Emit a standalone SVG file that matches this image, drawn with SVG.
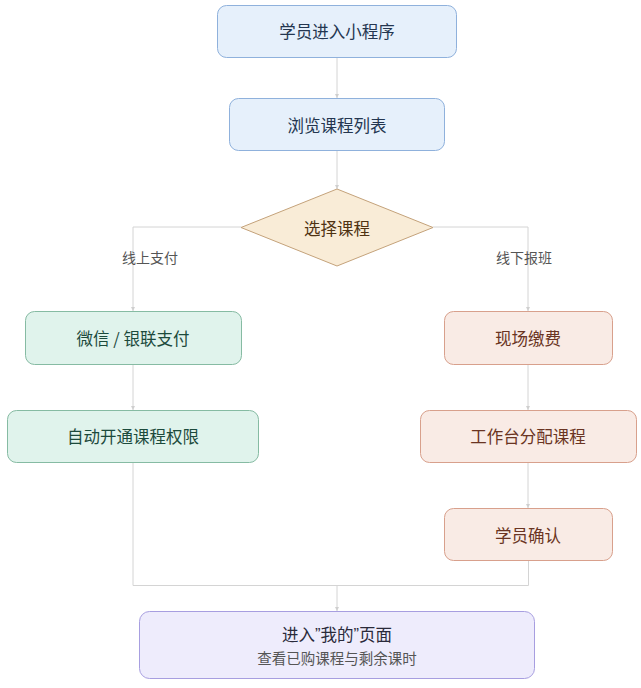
<svg xmlns="http://www.w3.org/2000/svg" width="641" height="688" viewBox="0 0 641 688">
<style>
text{font-family:"Noto Sans CJK SC","Liberation Sans",sans-serif;text-anchor:middle;dominant-baseline:central}
.t{font-size:16.5px}
.lbl{font-size:14px;fill:#555}
.sub{font-size:14.5px;fill:#555}
.q{font-family:"Liberation Sans","Noto Sans CJK SC",sans-serif}
.blue rect{fill:#e6f0fb;stroke:#8fb1dc;stroke-width:1}
.blue text{fill:#243650}
.green rect{fill:#e0f3ec;stroke:#86bba3;stroke-width:1}
.green text{fill:#1c4a3c}
.red rect{fill:#f9ebe5;stroke:#d8a08c;stroke-width:1}
.red text{fill:#6a3422}
.purple rect{fill:#eeecfc;stroke:#a79ee0;stroke-width:1}
.purple text.t{fill:#2a2a3a}
.edge{fill:none;stroke:#d4d4d4;stroke-width:1}
</style>
<defs>
<marker id="arr" viewBox="0 0 6 6" refX="6" refY="3" markerWidth="4" markerHeight="4" orient="auto">
<path d="M0,0 L6,3 L0,6 z" fill="#cfcfcf"/>
</marker>
</defs>
<g id="connectors">
<path class="edge" d="M337,57 V98" marker-end="url(#arr)"/>
<path class="edge" d="M337,151 V189" marker-end="url(#arr)"/>
<path class="edge" d="M241,227 H133 V311" marker-end="url(#arr)"/>
<path class="edge" d="M433,227 H528 V311" marker-end="url(#arr)"/>
<path class="edge" d="M133,364 V410" marker-end="url(#arr)"/>
<path class="edge" d="M528,364 V410" marker-end="url(#arr)"/>
<path class="edge" d="M528,463 V508" marker-end="url(#arr)"/>
<path class="edge" d="M133,463 V585.5 H528.5 V561"/>
<path class="edge" d="M337,585.5 V611" marker-end="url(#arr)"/>
<text class="lbl" x="150" y="257">线上支付</text>
<text class="lbl" x="524" y="257">线下报班</text>
</g>
<g id="n1" class="blue"><rect x="217.5" y="5.5" width="239" height="52" rx="9"/><text class="t" x="337" y="31">学员进入小程序</text></g>
<g id="n2" class="blue"><rect x="229.5" y="98.5" width="215" height="52" rx="9"/><text class="t" x="337" y="125">浏览课程列表</text></g>
<g id="n3"><polygon points="337,189 433,227.5 337,266 241,227.5" fill="#f9ecd7" stroke="#c4a27a" stroke-width="1"/><text class="t" x="337" y="228" fill="#4f3212">选择课程</text></g>
<g id="n4" class="green"><rect x="25.5" y="311.5" width="216" height="53" rx="9"/><text class="t" x="133" y="338">微信 <tspan>/</tspan> 银联支付</text></g>
<g id="n5" class="green"><rect x="7.5" y="410.5" width="251" height="52" rx="9"/><text class="t" x="133" y="436">自动开通课程权限</text></g>
<g id="n6" class="red"><rect x="444.5" y="311.5" width="168" height="53" rx="9"/><text class="t" x="528" y="338">现场缴费</text></g>
<g id="n7" class="red"><rect x="420.5" y="410.5" width="216" height="52" rx="9"/><text class="t" x="528" y="436">工作台分配课程</text></g>
<g id="n8" class="red"><rect x="444.5" y="508.5" width="168" height="52" rx="9"/><text class="t" x="528" y="535">学员确认</text></g>
<g id="n9" class="purple"><rect x="139.5" y="611.5" width="395" height="67" rx="10"/><text class="t" x="337" y="634">进入<tspan class="q">”</tspan>我的<tspan class="q">”</tspan>页面</text><text class="sub" x="337" y="657">查看已购课程与剩余课时</text></g>
</svg>
